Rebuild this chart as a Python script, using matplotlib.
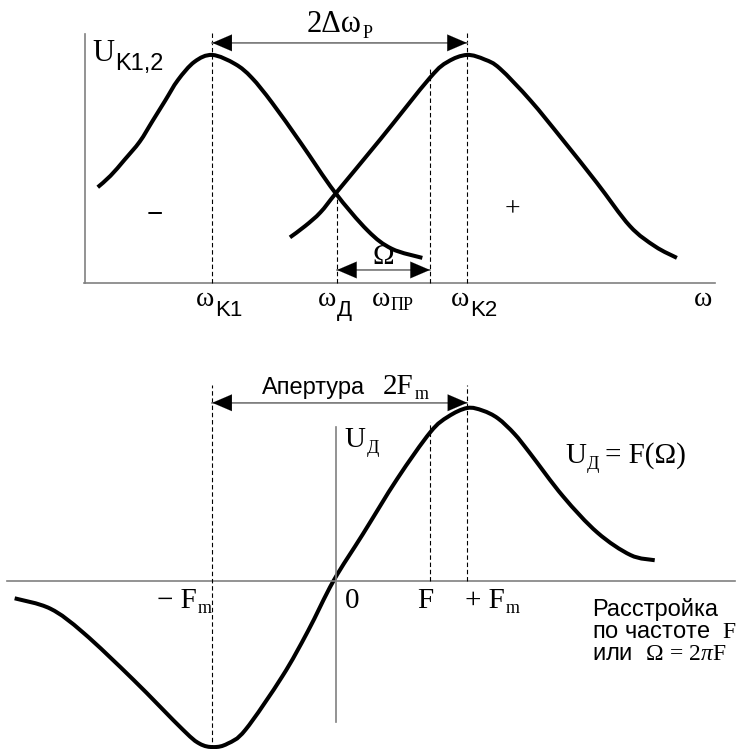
import matplotlib.pyplot as plt
from matplotlib.path import Path
from matplotlib.patches import PathPatch

SERIF = ['Liberation Serif', 'DejaVu Serif']
SANS = ['Liberation Sans', 'DejaVu Sans']
plt.rcParams['font.family'] = SERIF
plt.rcParams['mathtext.fontset'] = 'custom'
plt.rcParams['mathtext.rm'] = 'Liberation Serif'
plt.rcParams['mathtext.it'] = 'Liberation Serif:italic'

# upper plot: resonance curves of the two circuits (omega in units of w_K1, U normalised to peak)
w_k1 = [0.10, 0.20, 0.31, 0.43, 0.53, 0.63, 0.73, 0.86, 1.00, 1.18, 1.31, 1.47, 1.70, 1.96,
        2.22, 2.41, 2.65]
u_k1 = [0.42, 0.47, 0.54, 0.62, 0.71, 0.80, 0.89, 0.97, 1.00, 0.96, 0.90, 0.79, 0.61, 0.40,
        0.23, 0.15, 0.11]
w_k2 = [1.61, 1.73, 1.85, 1.98, 2.32, 2.71, 2.85, 3.00, 3.14, 3.26, 3.50, 3.75, 4.02, 4.28,
        4.48, 4.65]
u_k2 = [0.20, 0.25, 0.31, 0.40, 0.63, 0.90, 0.97, 1.00, 0.98, 0.94, 0.80, 0.63, 0.44, 0.25,
        0.16, 0.11]
w_res1, w_res2 = 1.00, 3.00
w_d = 1.98
w_pr = 2.71
u_cross = 0.40

# lower plot: discriminator characteristic U_D = F(Omega), Omega in units of F_m
om = [-2.52, -2.24, -1.98, -1.59, -1.20, -1.07, -0.96, -0.85, -0.71, -0.42, -0.22, -0.02,
      0.21, 0.48, 0.74, 0.88, 1.03, 1.15, 1.27, 1.40, 1.52, 1.78, 2.05, 2.31, 2.50]
u_d = [-0.10, -0.16, -0.30, -0.57, -0.86, -0.94, -0.96, -0.94, -0.86, -0.55, -0.29, 0.00,
       0.27, 0.59, 0.86, 0.95, 1.00, 0.985, 0.94, 0.85, 0.74, 0.49, 0.28, 0.15, 0.12]
fm_neg, fm_pos = -0.97, 1.03
f_mark = 0.74

AXIS = dict(color='#808080', lw=1.2)
DASH = dict(color='k', lw=0.8, linestyles=(0, (4, 2.5)))
HEADS = dict(arrowstyle='<|-|>,head_length=0.7,head_width=0.3', fc='k', ec='k',
             lw=0.1, shrinkA=0, shrinkB=0, mutation_scale=20)


def smooth_curve(ax, xs, ys):
    # Catmull-Rom through the points, drawn as cubic Bezier segments
    pts = list(zip(xs, ys))
    verts = [pts[0]]
    codes = [Path.MOVETO]
    for i in range(len(pts) - 1):
        p0 = pts[i - 1] if i > 0 else pts[i]
        p1, p2 = pts[i], pts[i + 1]
        p3 = pts[i + 2] if i + 2 < len(pts) else p2
        c1 = (p1[0] + (p2[0] - p0[0]) / 6, p1[1] + (p2[1] - p0[1]) / 6)
        c2 = (p2[0] - (p3[0] - p1[0]) / 6, p2[1] - (p3[1] - p1[1]) / 6)
        verts += [c1, c2, p2]
        codes += [Path.CURVE4] * 3
    ax.add_patch(PathPatch(Path(verts, codes), fill=False, ec='k', lw=2.9,
                           capstyle='butt', joinstyle='round'))


def dim_arrow(ax, x0, x1, y):
    ax.plot([x0, x1], [y, y], color='#808080', lw=1.2)
    ax.annotate('', xy=(x1, y), xytext=(x0, y), arrowprops=HEADS)


def sub_label(ax, x, y, base, sub, size=21, sub_size=13, sub_family=SERIF, dy=-1.0):
    t = ax.text(x, y, base, fontsize=size, family=SERIF, va='baseline', ha='left')
    ax.annotate(sub, xy=(1, 0), xycoords=t, xytext=(0.5, dy), textcoords='offset points',
                fontsize=sub_size, family=sub_family, va='baseline', ha='left')
    return t


fig = plt.figure(figsize=(7.45, 7.49), dpi=100)
top = fig.add_axes([0, 0.5461, 1, 0.4539])
bot = fig.add_axes([0, 0, 1, 0.5461])
top.set_xlim(-0.668, 5.185)
top.set_ylim(-0.25, 1.241)
bot.set_xlim(-2.635, 3.208)
bot.set_ylim(-0.971, 1.393)
for ax in (top, bot):
    ax.axis('off')

# --- upper plot ---
top.plot([0, 0], [0, 1.09], **AXIS)
top.plot([-0.01, 4.95], [0, 0], **AXIS)
top.vlines([w_res1, w_res2], 0, 1.10, **DASH)
top.vlines(w_d, 0, u_cross, **DASH)
top.vlines(w_pr, 0, 0.94, **DASH)
smooth_curve(top, w_k1, u_k1)
smooth_curve(top, w_k2, u_k2)
dim_arrow(top, w_res1, w_res2, 1.053)
dim_arrow(top, w_d, w_pr, 0.057)

sub_label(top, 1.744, 1.10, '2Δω', 'P', size=22, sub_size=13, dy=0.5)
sub_label(top, 0.055, 0.975, 'U', 'K1,2', size=22, sub_size=17, sub_family=SANS, dy=-1.5)
top.text(0.55, 0.30, '−', fontsize=20, family=SANS, ha='center', va='center')
top.text(3.36, 0.32, '+', fontsize=20, ha='center', va='center')
top.text(2.34, 0.114, 'Ω', fontsize=21, ha='center', va='center')

u_lab = -0.10
sub_label(top, 0.872, u_lab, 'ω', 'K1', size=20, sub_size=16, sub_family=SANS, dy=-3)
sub_label(top, 1.83, u_lab, 'ω', 'Д', size=20, sub_size=16, sub_family=SANS, dy=-3)
sub_label(top, 2.255, u_lab, 'ω', 'ПР', size=20, sub_size=13, dy=1)
sub_label(top, 2.875, u_lab, 'ω', 'K2', size=20, sub_size=16, sub_family=SANS, dy=-3)
top.text(4.78, u_lab, 'ω', fontsize=20, va='baseline')

# --- lower plot ---
bot.plot([-2.58, 3.13], [0, 0], **AXIS)
bot.plot([0, 0], [-0.815, 0.89], **AXIS)
bot.vlines(fm_neg, -0.971, 1.13, **DASH)
bot.vlines(fm_pos, 0, 1.13, **DASH)
bot.vlines(f_mark, 0, 0.92, **DASH)
smooth_curve(bot, om, u_d)
dim_arrow(bot, fm_neg, fm_pos, 1.03)

bot.text(-0.58, 1.08, 'Апертура', fontsize=17, family=SANS, va='baseline')
sub_label(bot, 0.37, 1.08, '2F', 'm', sub_size=13, dy=1)
sub_label(bot, 0.07, 0.775, 'U', 'Д', sub_size=13, dy=0)
sub_label(bot, 1.80, 0.682, 'U', 'Д', sub_size=13, dy=0)
bot.text(2.11, 0.682, '= F(Ω)', fontsize=21, va='baseline')

u_tick = -0.156
sub_label(bot, -1.40, u_tick, '− F', 'm', sub_size=13, dy=1)
bot.text(0.07, u_tick, '0', fontsize=21, va='baseline')
bot.text(0.64, u_tick, 'F', fontsize=21, va='baseline')
sub_label(bot, 1.01, u_tick, '+ F', 'm', sub_size=13, dy=1)

# three-line caption; 'baseline' anchors the last line
bot.text(2.01, -0.457,
         'Расстройка\nпо частоте  $\\mathrm{F}$\nили  $\\Omega\\,=\\,2\\pi\\mathrm{F}$',
         fontsize=17, family=SANS, va='baseline', ha='left', linespacing=1.0)

fig.savefig('out.png', dpi=100)
